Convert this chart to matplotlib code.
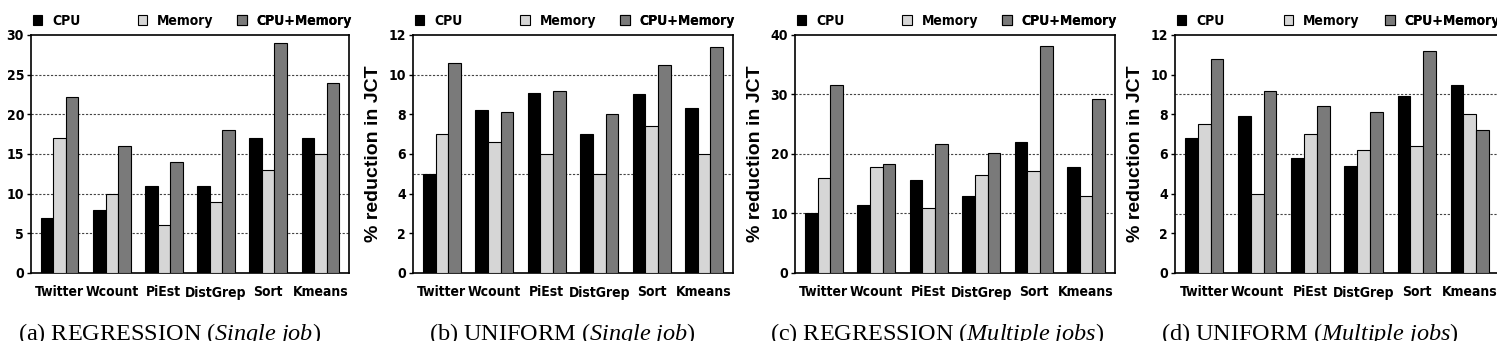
import matplotlib
matplotlib.use("Agg")
import numpy as np
import matplotlib.pyplot as plt
from matplotlib.patches import Patch

plt.rcParams["mathtext.fontset"] = "custom"
plt.rcParams["mathtext.rm"] = "Liberation Serif"
plt.rcParams["mathtext.it"] = "Liberation Serif:italic"

jobs = ["Twitter", "Wcount", "PiEst", "DistGrep", "Sort", "Kmeans"]
series = ["CPU", "Memory", "CPU+Memory"]

# (a) REGRESSION, single job
reg_single_cpu = [6.9, 8.0, 11.0, 11.0, 17.0, 17.0]
reg_single_mem = [17.0, 10.0, 6.0, 9.0, 13.0, 15.0]
reg_single_both = [22.2, 16.0, 14.0, 18.0, 29.0, 24.0]

# (b) UNIFORM, single job
uni_single_cpu = [5.0, 8.2, 9.1, 7.0, 9.0, 8.3]
uni_single_mem = [7.0, 6.6, 6.0, 5.0, 7.4, 6.0]
uni_single_both = [10.6, 8.1, 9.2, 8.0, 10.5, 11.4]

# (c) REGRESSION, multiple jobs
reg_multi_cpu = [10.0, 11.4, 15.7, 13.0, 22.0, 17.8]
reg_multi_mem = [16.0, 17.8, 11.0, 16.4, 17.2, 13.0]
reg_multi_both = [31.6, 18.3, 21.6, 20.1, 38.2, 29.3]

# (d) UNIFORM, multiple jobs
uni_multi_cpu = [6.8, 7.9, 5.8, 5.4, 8.9, 9.5]
uni_multi_mem = [7.5, 4.0, 7.0, 6.2, 6.4, 8.0]
uni_multi_both = [10.8, 9.2, 8.4, 8.1, 11.2, 7.2]

captions = [("(a) REGRESSION (", "Single job", ")"),
            ("(b) UNIFORM (", "Single job", ")"),
            ("(c) REGRESSION (", "Multiple jobs", ")"),
            ("(d) UNIFORM (", "Multiple jobs", ")")]

panels = [
    (reg_single_cpu, reg_single_mem, reg_single_both, 30, 5, [5, 10, 15, 20, 25], False),
    (uni_single_cpu, uni_single_mem, uni_single_both, 12, 2, [5, 10], True),
    (reg_multi_cpu, reg_multi_mem, reg_multi_both, 40, 10, [10, 20, 30], True),
    (uni_multi_cpu, uni_multi_mem, uni_multi_both, 12, 2, [3, 6, 9], True),
]

colors = ["black", "#d6d6d6", "#7a7a7a"]
tick_font = {"family": "DejaVu Sans", "stretch": "condensed", "weight": "bold", "size": 10}

W, H = 1497, 341
fig = plt.figure(figsize=(W / 100, H / 100), dpi=100)

# left, width in pixels
boxes = [(31, 318), (413, 320), (795, 320), (1175, 324)]
caption_x = [170, 562, 937, 1310]
legend_x = [0.005, 0.335, 0.648]
top_px, bot_px = 35, 273

x = np.arange(len(jobs))
bw = 0.24

for i, (cpu, mem, both, ymax, ystep, grids, has_ylabel) in enumerate(panels):
    l, w = boxes[i]
    ax = fig.add_axes([l / W, 1 - bot_px / H, w / W, (bot_px - top_px) / H])
    for g in grids:
        ax.axhline(g, color="#444444", linestyle=(0, (2, 1.5)), linewidth=0.8, zorder=1)
    for k, vals in enumerate([cpu, mem, both]):
        ax.bar(x + (k - 1) * bw, vals, bw, color=colors[k], edgecolor="black",
               linewidth=0.8, zorder=3)
    ax.set_xlim(-0.55, 5.55)
    ax.set_ylim(0, ymax)
    ax.set_yticks(np.arange(0, ymax + 0.1, ystep))
    ax.set_xticks(x)
    ax.set_xticklabels(jobs)
    ax.tick_params(axis="x", length=0, pad=9)
    ax.tick_params(axis="y", length=3, width=1, pad=2)
    for lab in ax.get_xticklabels() + ax.get_yticklabels():
        lab.set_fontproperties(tick_font)
    for sp in ax.spines.values():
        sp.set_linewidth(1.2)
    if i == 3:
        ax.spines["right"].set_visible(False)
    if has_ylabel:
        ax.set_ylabel("% reduction in JCT", fontsize=14, fontweight="bold",
                      family=["Liberation Sans", "DejaVu Sans"], labelpad=5)
    for k in range(3):
        h = Patch(facecolor=colors[k], edgecolor="black", linewidth=0.8)
        leg = ax.legend([h], [series[k]], loc="lower left",
                        bbox_to_anchor=(legend_x[k], 1.03), frameon=False,
                        handlelength=0.7, handleheight=0.7, handletextpad=0.7,
                        borderaxespad=0, borderpad=0, prop=tick_font)
        ax.add_artist(leg)

    pre, it, post = captions[i]
    fig.text(caption_x[i] / W, 1 - 334 / H,
             r"%s$\mathit{%s}$%s" % (pre, it.replace(" ", r"\ "), post),
             ha="center", va="center", fontsize=17.5, family="Liberation Serif")

fig.savefig("out.png", dpi=100)
